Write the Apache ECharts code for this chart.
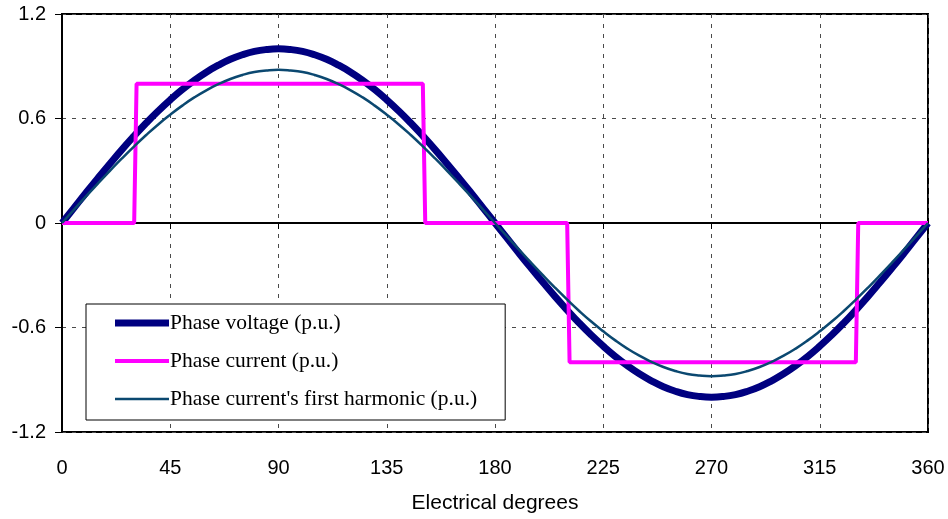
<!DOCTYPE html>
<html>
<head>
<meta charset="utf-8">
<script src="https://cdn.jsdelivr.net/npm/echarts@6/dist/echarts.min.js"></script>
<style>html,body{margin:0;padding:0;background:#fff}#c{width:948px;height:519px}</style>
</head>
<body>
<div id="c"></div>
<script>
// Electrical degrees sampled for the sinusoidal curves
const degrees = [0,5,10,15,20,25,30,35,40,45,50,55,60,65,70,75,80,85,90,
  95,100,105,110,115,120,125,130,135,140,145,150,155,160,165,170,175,180,
  185,190,195,200,205,210,215,220,225,230,235,240,245,250,255,260,265,270,
  275,280,285,290,295,300,305,310,315,320,325,330,335,340,345,350,355,360];
// Phase voltage (p.u.)
const phaseVoltage = [0,0.087,0.174,0.259,0.342,0.423,0.5,0.574,0.643,0.707,0.766,0.819,0.866,0.906,0.94,0.966,0.985,0.996,1,
  0.996,0.985,0.966,0.94,0.906,0.866,0.819,0.766,0.707,0.643,0.574,0.5,0.423,0.342,0.259,0.174,0.087,0,
  -0.087,-0.174,-0.259,-0.342,-0.423,-0.5,-0.574,-0.643,-0.707,-0.766,-0.819,-0.866,-0.906,-0.94,-0.966,-0.985,-0.996,-1,
  -0.996,-0.985,-0.966,-0.94,-0.906,-0.866,-0.819,-0.766,-0.707,-0.643,-0.574,-0.5,-0.423,-0.342,-0.259,-0.174,-0.087,0];
// Phase current's first harmonic (p.u.)
const firstHarmonic = [0,0.077,0.153,0.228,0.301,0.372,0.44,0.505,0.566,0.622,0.674,0.721,0.762,0.797,0.827,0.85,0.867,0.876,0.88,
  0.876,0.867,0.85,0.827,0.797,0.762,0.721,0.674,0.622,0.566,0.505,0.44,0.372,0.301,0.228,0.153,0.077,0,
  -0.077,-0.153,-0.228,-0.301,-0.372,-0.44,-0.505,-0.566,-0.622,-0.674,-0.721,-0.762,-0.797,-0.827,-0.85,-0.867,-0.876,-0.88,
  -0.876,-0.867,-0.85,-0.827,-0.797,-0.762,-0.721,-0.674,-0.622,-0.566,-0.505,-0.44,-0.372,-0.301,-0.228,-0.153,-0.077,0];
// Phase current (p.u.) — quasi-square wave
const currentDegrees = [0,30,31,150,151,210,211,330,331,360];
const phaseCurrent   = [0,0,0.8,0.8,0,0,-0.8,-0.8,0,0];
// Axis ticks
const xTicks = [0,45,90,135,180,225,270,315,360];
const yTicks = [-1.2,-0.6,0,0.6,1.2];
const seriesNames = ['Phase voltage (p.u.)','Phase current (p.u.)',"Phase current's first harmonic (p.u.)"];

const pair = (xs, ys) => xs.map((x, i) => [x, ys[i]]);
const chart = echarts.init(document.getElementById('c'), null, {renderer: 'canvas'});
const dashed = {show: true, lineStyle: {color: '#4a4a4a', type: [4, 6], width: 1}};
chart.setOption({
  animation: false,
  backgroundColor: '#fff',
  grid: {left: 62, right: 20, top: 14, bottom: 86, show: true, borderColor: '#000', borderWidth: 2, backgroundColor: 'transparent'},
  xAxis: {
    type: 'value', min: xTicks[0], max: xTicks[xTicks.length - 1], interval: 45,
    name: 'Electrical degrees', nameLocation: 'middle', nameGap: 61,
    nameTextStyle: {fontFamily: 'Liberation Sans', fontSize: 21, color: '#000'},
    axisLine: {show: true, lineStyle: {color: '#000', width: 2}},
    axisTick: {show: true, length: 6, lineStyle: {color: '#000'}},
    axisLabel: {fontFamily: 'Liberation Sans', fontSize: 20, color: '#000', margin: 26},
    splitLine: dashed
  },
  yAxis: {
    type: 'value', min: yTicks[0], max: yTicks[yTicks.length - 1], interval: 0.6,
    axisLine: {show: true, lineStyle: {color: '#000', width: 2}},
    axisTick: {show: true, length: 7, lineStyle: {color: '#000'}},
    axisLabel: {fontFamily: 'Liberation Sans', fontSize: 20, color: '#000', margin: 16,
      formatter: v => (Math.abs(v) < 1e-9 ? '0' : String(+v.toFixed(1)))},
    splitLine: dashed
  },
  legend: {
    orient: 'vertical', left: 86, top: 304,
    padding: [8, 28, 10, 29],
    backgroundColor: '#fff', borderColor: '#000', borderWidth: 1,
    itemWidth: 54, itemHeight: 22, itemGap: 16,
    itemStyle: {borderWidth: 0},
    textStyle: {fontFamily: 'Liberation Serif', fontSize: 21.5, color: '#000', padding: [0, 0, 0, -4]},
    data: [
      {name: seriesNames[0], icon: 'path://M0,0 H54 V7 H0 Z'},
      {name: seriesNames[1], icon: 'path://M0,0 H54 V4 H0 Z'},
      {name: seriesNames[2], icon: 'path://M0,0 H54 V2.5 H0 Z'}
    ]
  },
  series: [
    {name: seriesNames[0], type: 'line', data: pair(degrees, phaseVoltage), symbol: 'none', smooth: true,
      color: '#000080', lineStyle: {color: '#000080', width: 7}, z: 2},
    {name: seriesNames[1], type: 'line', data: pair(currentDegrees, phaseCurrent), symbol: 'none',
      color: '#ff00ff', lineStyle: {color: '#ff00ff', width: 4}, z: 3},
    {name: seriesNames[2], type: 'line', data: pair(degrees, firstHarmonic), symbol: 'none', smooth: true,
      color: '#0b4870', lineStyle: {color: '#0b4870', width: 2.5}, z: 4}
  ]
});
</script>
</body>
</html>
